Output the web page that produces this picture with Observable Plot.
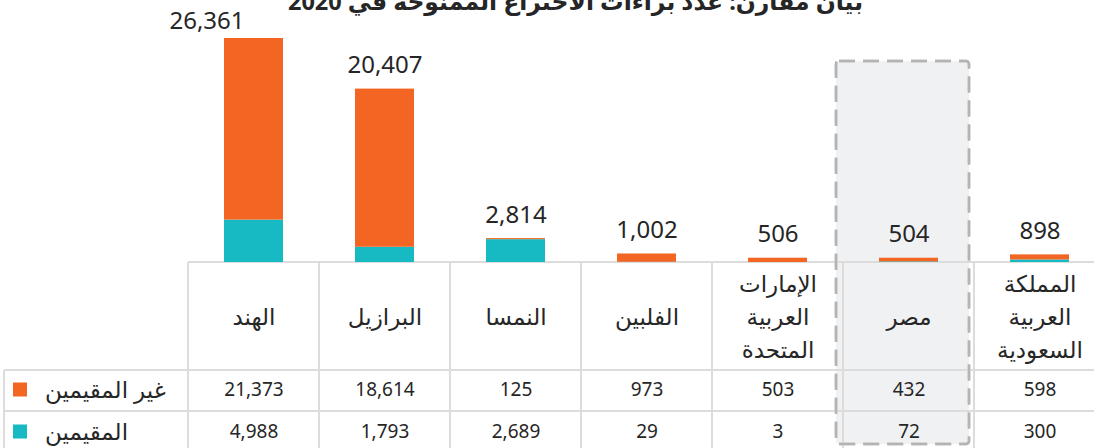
<!DOCTYPE html>
<html lang="ar">
<head>
<meta charset="utf-8">
<script src="https://cdn.jsdelivr.net/npm/d3@7"></script>
<script src="https://cdn.jsdelivr.net/npm/@observablehq/plot@0.6"></script>
<style>
  html, body { margin: 0; padding: 0; background: #fff; overflow: hidden; }
  #chart svg { display: block; overflow: hidden; }
</style>
</head>
<body>
<div id="chart"></div>
<script>
const title = "بيان مقارن: عدد براءات الاختراع الممنوحة في 2020";
const countries = ["الهند", "البرازيل", "النمسا", "الفلبين", "الإمارات\nالعربية\nالمتحدة", "مصر", "المملكة\nالعربية\nالسعودية"];
const nonResident = [21373, 18614, 125, 973, 503, 432, 598];
const resident = [4988, 1793, 2689, 29, 3, 72, 300];
const seriesNames = ["غير المقيمين", "المقيمين"];
const seriesColors = ["#f26522", "#17bac2"];
const highlighted = "مصر";

const fmt = d3.format(",");
const FONT = "'Noto Sans', 'DejaVu Sans', sans-serif";

const rows = [];
countries.forEach((c, i) => {
  rows.push({country: c, series: seriesNames[1], value: resident[i]});
  rows.push({country: c, series: seriesNames[0], value: nonResident[i]});
});
const totals = countries.map((c, i) => ({country: c, total: resident[i] + nonResident[i]}));
const maxTotal = d3.max(totals, d => d.total);

// table layout (pixels)
const tableTop = 262, row1Top = 370, row2Top = 411, tableBottom = 452, tableLeft = 4;

function tableLayer(index, scales) {
  const x = scales.x;
  const bw = x.bandwidth();
  const g = d3.create("svg:g");
  const colStarts = countries.map(c => x(c));
  const right = colStarts[colStarts.length - 1] + bw;
  const gridColor = "#dcdcdc";
  g.append("line").attr("x1", colStarts[0]).attr("x2", right).attr("y1", tableTop).attr("y2", tableTop);
  [row1Top, row2Top, tableBottom].forEach(y =>
    g.append("line").attr("x1", tableLeft).attr("x2", right).attr("y1", y).attr("y2", y));
  colStarts.concat([right]).forEach(xx =>
    g.append("line").attr("x1", xx).attr("x2", xx).attr("y1", tableTop).attr("y2", tableBottom));
  g.append("line").attr("x1", tableLeft).attr("x2", tableLeft).attr("y1", row1Top).attr("y2", tableBottom);
  g.selectAll("line").attr("stroke", gridColor).attr("stroke-width", 2);
  seriesNames.forEach((s, i) => {
    const cy = i === 0 ? 389.5 : 431.5;
    g.append("rect").attr("x", 13).attr("y", cy - 7).attr("width", 14).attr("height", 14)
      .attr("fill", scales.color(s));
    g.append("text").attr("x", 45).attr("y", cy).attr("dy", "0.35em")
      .attr("text-anchor", "start").attr("fill", "#262626")
      .attr("font-size", 23).attr("font-family", FONT).text(s);
  });
  return g.node();
}

function highlightRect(scales, fill) {
  const x = scales.x;
  const bw = x.bandwidth();
  const x0 = x(highlighted);
  return d3.create("svg:rect")
    .attr("x", x0 - 7).attr("y", 61).attr("width", bw + 2).attr("height", 383)
    .attr("rx", 3)
    .attr("fill", fill).attr("stroke", "#b4b4b4").attr("stroke-width", 2.5)
    .attr("stroke-dasharray", "16,8").node();
}
const highlightLayer = (index, scales) => highlightRect(scales, "#f0f1f3");
const borderLayer = (index, scales) => highlightRect(scales, "none");

const plot = Plot.plot({
  width: 1094,
  height: 448,
  margin: 0,
  style: {fontFamily: FONT, background: "#fff", color: "#262626"},
  x: {type: "band", domain: countries, range: [188, 1105], padding: 0, axis: null},
  y: {domain: [0, maxTotal], range: [262, 38], axis: null},
  color: {domain: seriesNames, range: seriesColors},
  marks: [
    highlightLayer,
    tableLayer,
    borderLayer,
    Plot.barY(rows, {x: "country", y: "value", fill: "series", insetLeft: 36, insetRight: 36,
      order: [seriesNames[1], seriesNames[0]]}),
    Plot.text(totals.slice(1), {x: "country", y: "total", text: d => fmt(d.total), dy: -16,
      lineAnchor: "bottom", fontSize: 24, fill: "#262626"}),
    Plot.text(totals.slice(0, 1), {x: "country", y: "total", text: d => fmt(d.total), dy: -10, dx: -47,
      lineAnchor: "bottom", fontSize: 24, fill: "#262626"}),
    Plot.text(countries, {x: d => d, text: d => d, frameAnchor: "top", dy: 314,
      lineAnchor: "middle", lineHeight: 1.43, fontSize: 23, fill: "#262626"}),
    Plot.text(countries.map((c, i) => ({c, v: nonResident[i]})), {x: "c", text: d => fmt(d.v),
      frameAnchor: "top", dy: 389.5, lineAnchor: "middle", fontSize: 19, fill: "#262626"}),
    Plot.text(countries.map((c, i) => ({c, v: resident[i]})), {x: "c", text: d => fmt(d.v),
      frameAnchor: "top", dy: 431.5, lineAnchor: "middle", fontSize: 19, fill: "#262626"}),
    Plot.text([title], {text: d => d, frameAnchor: "top", dx: 28, dy: 9, lineAnchor: "bottom",
      fontSize: 23.5, fontWeight: "bold", fill: "#262626"})
  ]
});
document.getElementById("chart").appendChild(plot);
</script>
</body>
</html>
